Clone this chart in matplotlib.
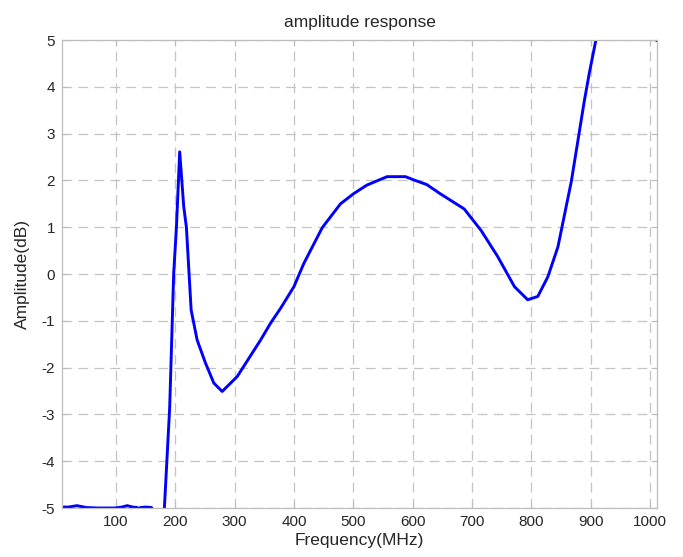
import numpy as np
import matplotlib.pyplot as plt

# amplitude response (MHz, dB)
freq = [9, 20, 34, 50, 70, 98, 110, 119, 128, 136, 138, 141, 150, 160, 163, 172,
        181.6, 190.5, 197.3, 201.9, 207.4, 214.2, 218.7, 226.7, 236.8, 250.8,
        264.9, 279, 304.4, 343.8, 360.6, 377.6, 400, 416.8, 447.7, 478.5, 501,
        523, 557, 588, 602, 624, 646, 687, 715.5, 743.6, 771.7, 794,
        811, 828, 845, 867.6, 889.5, 898, 909, 915, 1005, 1012]
amp_db = [-4.98, -4.98, -4.95, -4.99, -5.0, -5.0, -4.98, -4.95, -4.98, -4.99,
          -5.06, -4.99, -4.98, -4.99, -5.1, -5.4,
          -5.0, -2.86, 0.02, 1.0, 2.61, 1.44, 1.0, -0.77, -1.41, -1.9,
          -2.33, -2.51, -2.19, -1.41, -1.05, -0.73, -0.27, 0.23, 0.99, 1.5, 1.72,
          1.9, 2.08, 2.08, 2.01, 1.91, 1.72, 1.39, 0.93, 0.37, -0.27, -0.55,
          -0.48, -0.06, 0.58, 1.98, 3.7, 4.3, 5.0, 5.4, 5.6, 4.99]

xticks = list(range(100, 1001, 100))
yticks = list(range(-5, 6))

plt.rcParams['font.family'] = ['Liberation Sans', 'DejaVu Sans']
plt.rcParams['lines.scale_dashes'] = False
plt.rcParams['axes.unicode_minus'] = False

fig = plt.figure(figsize=(6.83, 5.57), dpi=100)
ax = fig.add_axes([62 / 683, 1 - 508 / 557, 595 / 683, 468 / 557])

ax.plot(freq, amp_db, color='#0000ff', linewidth=2.1)

ax.set_xlim(9, 1012)
ax.set_ylim(-5, 5)
ax.set_xticks(xticks)
ax.set_yticks(yticks)
ax.grid(True, color='#c4c4c4', linestyle=(0, (7, 4.5)), linewidth=0.9)
ax.set_axisbelow(True)

for s in ax.spines.values():
    s.set_color('#bdbdbd')
    s.set_linewidth(0.9)
ax.tick_params(direction='in', length=4, color='#bdbdbd', labelsize=11,
               labelcolor='#262626', top=True, right=True, pad=5)

ax.set_title('amplitude response', fontsize=12.5, color='#262626', pad=9)
ax.set_xlabel('Frequency(MHz)', fontsize=12.5, color='#262626', labelpad=3)
ax.set_ylabel('Amplitude(dB)', fontsize=12.5, color='#262626', labelpad=8)

fig.savefig('out.png', dpi=100)
